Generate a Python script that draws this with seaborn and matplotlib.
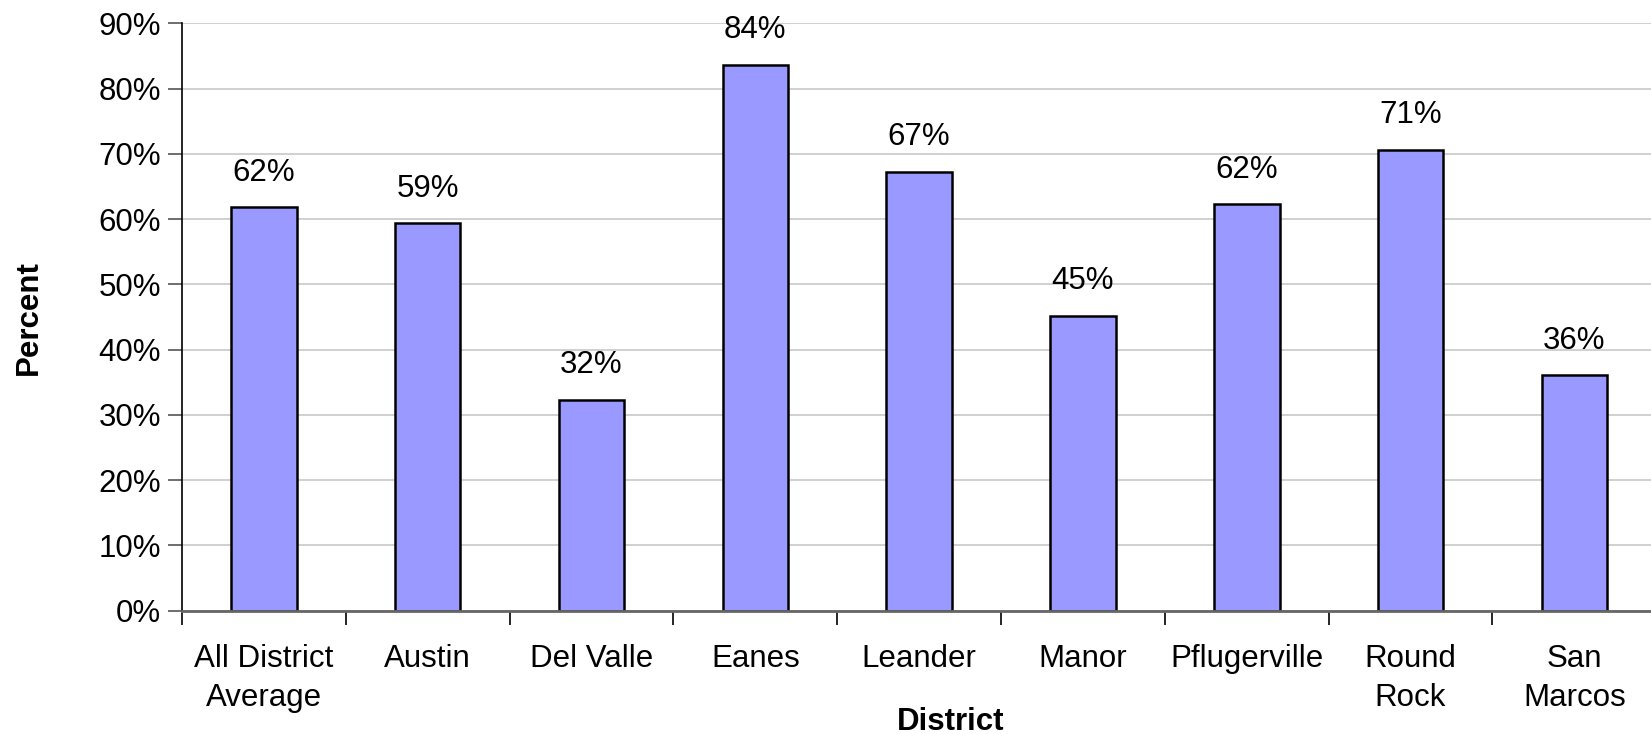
import matplotlib
matplotlib.use("Agg")
import matplotlib.pyplot as plt
from matplotlib.ticker import FixedLocator, PercentFormatter
import seaborn as sns

districts = ["All District\nAverage", "Austin", "Del Valle", "Eanes", "Leander",
             "Manor", "Pflugerville", "Round\nRock", "San\nMarcos"]
percent = [61.8, 59.4, 32.3, 83.7, 67.3, 45.2, 62.3, 70.6, 36.1]
y_ticks = [0, 10, 20, 30, 40, 50, 60, 70, 80, 90]

sns.set_theme(style="white")
plt.rcParams["font.family"] = ["Liberation Sans", "DejaVu Sans"]
plt.rcParams["text.color"] = "black"
plt.rcParams["axes.labelcolor"] = "black"
plt.rcParams["xtick.color"] = "black"
plt.rcParams["ytick.color"] = "black"

FS = 22.5

fig = plt.figure(figsize=(16.51, 7.34), dpi=100)
ax = fig.add_axes([0.1102, 0.168, 0.893, 0.800])

sns.barplot(x=districts, y=percent, order=districts, color="#9999FF",
            saturation=1, width=0.4, edgecolor="black", linewidth=1.8, ax=ax)

ax.set_xlim(-0.5, 8.5)
ax.set_ylim(0, 90)
ax.set_yticks(y_ticks)
ax.yaxis.set_major_formatter(PercentFormatter(decimals=0))
ax.grid(axis="y", color="#c8c8c8", linewidth=1.2)
ax.set_axisbelow(True)

for side in ("top", "right"):
    ax.spines[side].set_visible(False)
ax.spines["left"].set_color("black")
ax.spines["left"].set_linewidth(1.2)
ax.spines["bottom"].set_color("#666666")
ax.spines["bottom"].set_linewidth(2)

ax.tick_params(axis="y", which="major", direction="out", length=10, width=1.2,
               color="#555555", labelsize=FS, pad=5, left=True)
ax.tick_params(axis="x", which="major", length=0, labelsize=FS, pad=24)
ax.xaxis.set_minor_locator(FixedLocator([i - 0.5 for i in range(len(districts) + 1)]))
ax.tick_params(axis="x", which="minor", direction="out", length=10, width=1.2,
               color="black", bottom=True)
for lbl in ax.get_xticklabels():
    lbl.set_linespacing(1.4)

for i, v in enumerate(percent):
    ax.text(i, v + 3.0, f"{round(v):d}%", ha="center", va="bottom", fontsize=FS,
            color="black")

ax.set_ylabel("Percent", fontsize=FS, fontweight="bold", labelpad=39)
ax.set_xlabel("")
fig.text(0.576, 0.006, "District", ha="center", va="baseline", fontsize=FS,
         fontweight="bold", color="black")

fig.savefig("out.png", dpi=100)
